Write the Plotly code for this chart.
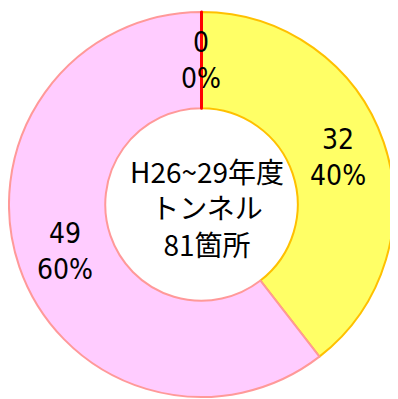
import math
import plotly.graph_objects as go

labels = ["区分A", "区分B", "区分C"]
values = [0, 32, 49]
fill_colors = ["#FF0000", "#FFFF66", "#FFCCFF"]
line_colors = ["#FF0000", "#FFC000", "#FF9999"]
line_widths = [3, 2, 2]
center_lines = ["H26~29年度", "トンネル", "81箇所"]

total = sum(values)
value_text = [str(v) for v in values]
percent_text = [f"{round(100 * v / total)}%" for v in values]

# Draw the zero slice last (so its red border sits on top), ending at 12 o'clock.
order = [1, 2, 0]
# A zero slice is skipped by Plotly; give it a vanishing width so its border shows.
draw_values = [values[i] if values[i] > 0 else total * 1e-6 for i in order]

HOLE = 0.5
LABEL_FONT = dict(family="DejaVu Sans Condensed, sans-serif", size=28, color="black")

fig = go.Figure(go.Pie(
    labels=[labels[i] for i in order],
    values=draw_values,
    customdata=[[value_text[i], percent_text[i]] for i in order],
    text=[f"{value_text[i]}<br>{percent_text[i]}" if values[i] > 0 else "" for i in order],
    sort=False,
    direction="clockwise",
    rotation=0,
    hole=HOLE,
    marker=dict(colors=[fill_colors[i] for i in order],
                line=dict(color=[line_colors[i] for i in order],
                          width=[line_widths[i] for i in order])),
    texttemplate="%{text}",
    textposition="inside",
    insidetextorientation="horizontal",
    textfont=LABEL_FONT,
    showlegend=False,
    hovertemplate="%{label}: %{customdata[0]} (%{customdata[1]})<extra></extra>",
))

W, H = 390, 391
M = dict(l=0, r=3, t=4, b=2)
pw, ph = W - M["l"] - M["r"], H - M["t"] - M["b"]
R = min(pw, ph) / 2

# label for the zero slice, placed at its mid-angle and mid-radius
cum = 0.0
sum_draw = sum(draw_values)
for k, i in enumerate(order):
    frac = draw_values[k] / sum_draw
    if values[i] == 0:
        ang = 2 * math.pi * (cum + frac / 2)
        rm = R * (1 + HOLE) / 2
        fig.add_annotation(
            text=f"{value_text[i]}<br>{percent_text[i]}",
            x=0.5 + rm * math.sin(ang) / pw, y=0.5 + rm * math.cos(ang) / ph,
            xref="paper", yref="paper", xanchor="center", yanchor="middle",
            showarrow=False, font=LABEL_FONT,
        )
    cum += frac

fig.add_annotation(
    text="<br>".join(center_lines),
    x=0.513, y=0.491, xref="paper", yref="paper",
    xanchor="center", yanchor="middle",
    showarrow=False,
    font=dict(family="Noto Sans CJK JP", size=28, color="black"),
)

fig.update_layout(
    width=W, height=H,
    margin=M,
    paper_bgcolor="white",
    plot_bgcolor="white",
)

fig.write_html("out.html")
